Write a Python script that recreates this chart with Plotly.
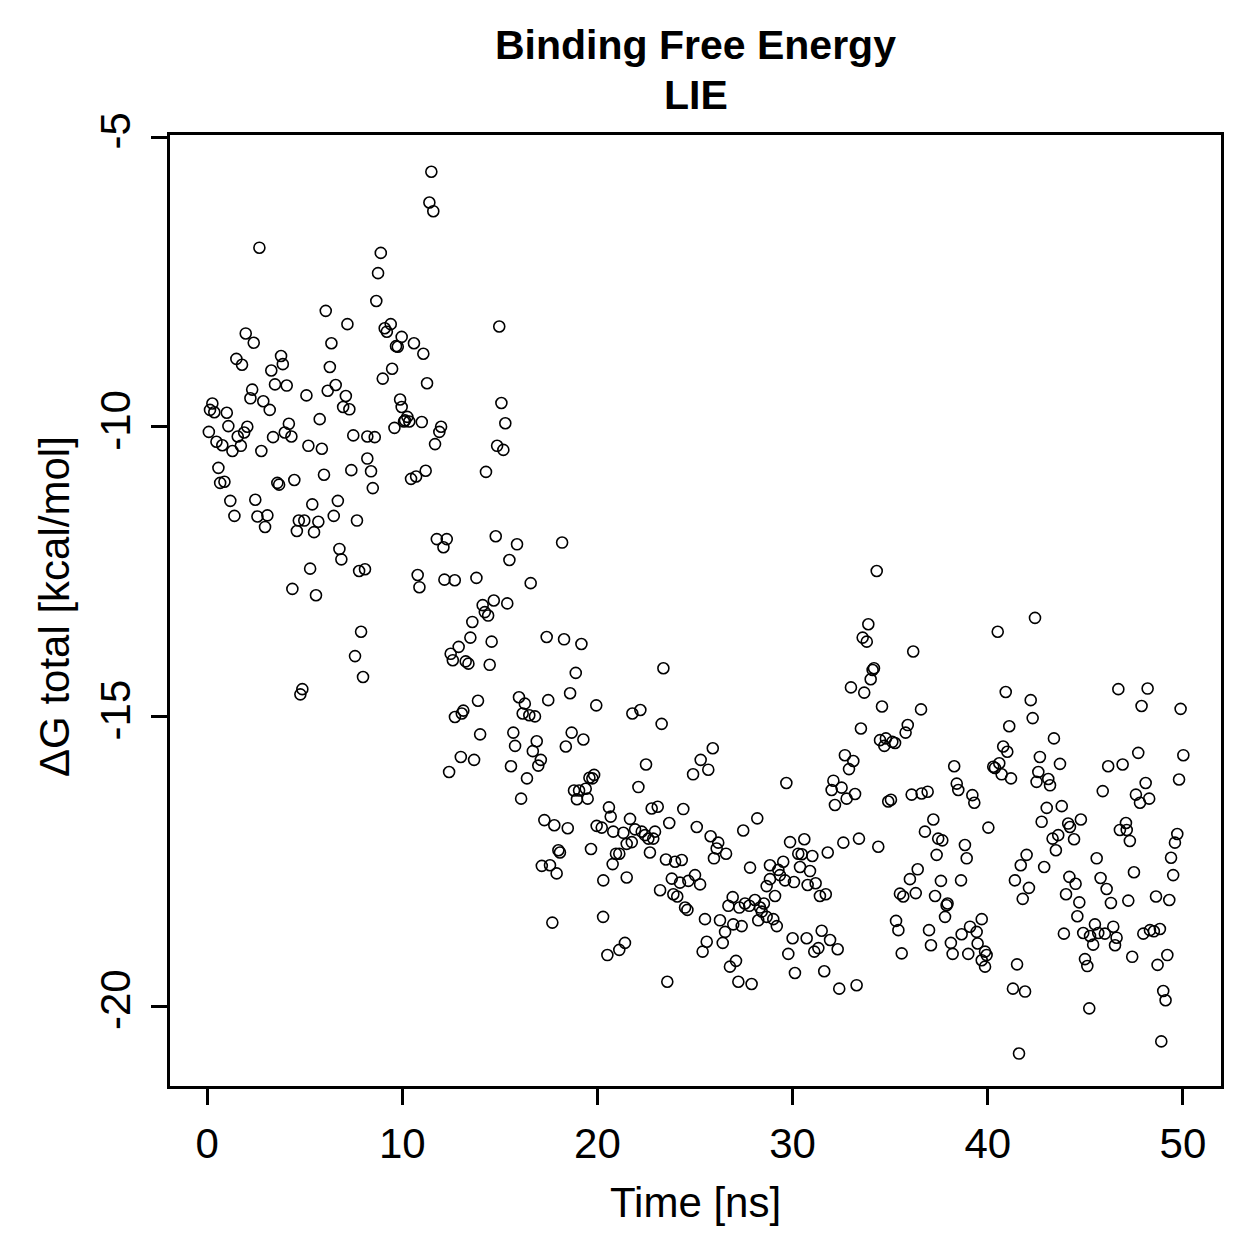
import plotly.graph_objects as go

# ---- data ----
time_ns = [
    # 0-10 ns, upper part
    2.68, 8.90, 8.76, 8.67, 6.08, 7.19, 9.41, 9.10, 9.21, 1.98, 2.39, 6.37, 9.68, 9.77, 9.97, 3.79,
    1.50, 1.79, 3.88, 6.29, 9.48, 3.29, 9.00, 3.48, 4.08, 6.59, 2.31, 6.18, 5.09, 7.11, 2.22, 2.88,
    9.89, 3.21, 6.97, 7.29, 9.97, 0.27, 0.15, 0.37, 1.01, 5.77, 4.19, 1.09, 2.06, 1.90, 1.57, 0.09,
    9.60, 10.09, 3.98, 4.32, 3.38, 7.49, 8.21, 8.59, 0.48, 0.78, 1.73, 1.30, 2.78, 5.19, 5.88, 8.21,
    # 0-10 ns, lower part
    0.58, 0.67, 0.89, 3.60, 3.69, 4.47, 5.99, 7.39, 8.40, 8.49, 1.19, 2.47, 5.39, 6.70, 1.40, 2.58,
    3.09, 2.97, 4.70, 4.98, 5.70, 6.49, 7.68, 4.60, 5.48, 6.78, 6.88, 5.28, 7.79, 8.09, 4.37, 5.58,
    7.89, 7.58, 7.99, 4.88, 4.78,
    # 10-20 ns, upper part
    11.49, 11.39, 11.59, 14.97, 10.60, 11.08, 11.27, 10.26, 10.36, 10.14, 11.00, 11.99, 11.90, 11.68,
    15.08, 15.28, 14.86, 15.18,
    # 10-20 ns, middle
    10.45, 10.71, 11.20, 14.29, 11.77, 12.28, 12.11, 14.79, 15.88, 15.49, 18.19, 10.79, 10.88, 12.16,
    12.69, 13.80, 16.58, 14.12, 14.69, 15.38, 14.23, 14.40, 13.59, 13.49, 14.58, 12.89, 12.48, 12.59,
    13.25, 13.39, 14.48, 17.40, 18.29, 19.18, 18.89, 18.60, 17.48, 15.98, 16.28, 13.88, 13.13, 13.05,
    12.70, 16.17, 16.51, 16.80, 19.94,
    # 10-20 ns, lower part
    13.99, 15.69, 15.78, 16.89, 16.69, 18.68, 19.28, 18.38, 13.00, 13.68, 12.40, 15.57, 17.10, 16.97,
    16.39, 16.09, 19.59, 19.83, 19.74, 18.80, 19.06, 19.40, 18.95, 19.50, 17.28, 17.79, 18.48, 19.96,
    18.00, 18.08, 19.67, 17.15, 17.57, 17.91, 17.69, 20.29,
    # 20-30 ns, upper part
    23.38, 21.79, 22.20, 23.29, 25.91, 25.29, 25.68, 24.90, 22.49, 22.10, 29.68, 20.59, 20.68, 21.67,
    22.78, 23.09, 24.40, 23.68, 28.19,
    # 20-30 ns, lower part
    20.22, 20.81, 21.33, 21.93, 22.27, 22.44, 22.61, 22.95, 22.86, 21.76, 21.50, 25.09, 25.80, 26.19,
    26.11, 26.59, 25.97, 27.47, 29.87, 21.12, 20.95, 22.69, 20.78, 23.51, 23.98, 24.32, 20.30, 21.50,
    23.81, 24.23, 24.66, 25.00, 25.26, 23.21, 23.89, 24.09, 24.49, 24.61, 25.51, 26.28, 26.54, 26.42,
    26.96, 27.39, 26.93, 26.71, 27.27, 27.56, 27.78, 28.07, 28.33, 28.53, 28.42, 28.24, 28.67, 29.01,
    29.19, 27.82, 28.84, 29.27, 29.52, 29.35, 29.61, 30.07, 28.84, 28.67, 29.10, 21.41, 21.12, 20.51,
    25.60, 25.39, 27.10, 26.79, 23.58, 27.22, 27.90, 30.00, 29.78, 30.12,
    # 30-40 ns, upper part
    34.31, 33.88, 33.59, 33.80, 36.18, 34.17, 34.10, 34.00, 32.99, 33.67, 34.58, 36.58, 33.50, 35.90,
    35.79, 34.48, 34.78, 34.70, 35.11, 35.25, 32.68, 33.11, 32.89, 38.28, 32.09, 32.00, 32.51, 33.20,
    32.77, 38.41, 36.92, 36.10, 36.61, 38.49, 39.21,
    # 30-40 ns, lower part
    32.17, 34.90, 35.04, 39.31, 37.21, 36.78, 37.46, 37.67, 38.83, 38.92, 40.03, 30.60, 30.29, 30.47,
    31.01, 31.80, 32.60, 33.40, 34.39, 37.38, 30.38, 30.89, 30.77, 31.18, 31.40, 31.70, 36.41, 36.01,
    37.60, 38.63, 35.50, 35.67, 36.31, 37.30, 37.94, 37.89, 37.81, 35.30, 35.42, 36.99, 37.09, 39.69,
    39.09, 39.43, 38.66, 38.11, 39.48, 39.86, 39.94, 39.00, 38.20, 39.69, 39.86, 35.59, 31.49, 30.72,
    31.92, 32.31, 31.32, 31.11, 31.62, 32.39, 33.28,
    # 40-50 ns, upper part
    42.42, 40.51, 40.92, 42.20, 42.30, 41.10, 43.39, 40.79, 41.00, 40.59, 40.37, 40.28, 40.71, 41.19,
    42.67, 43.70, 42.59, 42.50, 43.10, 43.19, 46.69, 48.19, 47.88, 49.88, 47.71, 50.02, 46.17, 46.91,
    48.09, 49.80, 45.89, 47.59, 47.80, 48.27, 43.02, 43.79, 42.76, 44.12, 44.77, 44.21, 47.08, 46.77,
    47.12,
    # 40-50 ns, lower part
    43.32, 43.61, 43.49, 44.42, 47.28, 49.71, 49.59, 41.99, 41.69, 42.89, 41.39, 42.11, 41.79, 45.58,
    44.18, 44.50, 44.01, 44.69, 44.59, 45.78, 46.09, 46.31, 47.49, 47.20, 49.39, 49.50, 48.62, 49.30,
    43.90, 44.89, 45.24, 45.49, 45.66, 46.00, 45.40, 46.43, 46.60, 46.52, 47.97, 48.31, 48.51, 48.82,
    47.40, 49.20, 48.70, 44.98, 45.10, 41.50, 41.29, 41.91, 45.20, 48.99, 49.11, 48.89, 41.60,
]

dg_total = [
    # 0-10 ns, upper part
    -6.91, -7.00, -7.35, -7.83, -8.00, -8.23, -8.23, -8.30, -8.36, -8.39, -8.55, -8.56, -8.61, -8.62, -8.45, -8.78,
    -8.83, -8.93, -8.92, -8.97, -9.00, -9.03, -9.17, -9.27, -9.29, -9.28, -9.36, -9.38, -9.46, -9.47, -9.51, -9.56,
    -9.53, -9.71, -9.66, -9.70, -9.66, -9.60, -9.71, -9.75, -9.76, -9.87, -9.95, -9.99, -10.00, -10.10, -10.17, -10.09,
    -10.02, -9.91, -10.10, -10.17, -10.18, -10.15, -10.17, -10.18, -10.26, -10.32, -10.33, -10.42, -10.42, -10.33, -10.38, -10.55,
    # 0-10 ns, lower part
    -10.71, -10.97, -10.95, -10.97, -11.00, -10.92, -10.83, -10.75, -10.77, -11.06, -11.28, -11.26, -11.34, -11.28, -11.54, -11.55,
    -11.53, -11.73, -11.62, -11.62, -11.64, -11.54, -11.62, -11.80, -11.82, -12.11, -12.29, -12.45, -12.49, -12.46, -12.80, -12.91,
    -13.54, -13.96, -14.32, -14.53, -14.62,
    # 10-20 ns, upper part
    -5.60, -6.13, -6.28, -8.27, -8.56, -8.74, -9.25, -9.83, -9.91, -9.89, -9.92, -10.00, -10.09, -10.30,
    -9.59, -9.94, -10.33, -10.40,
    # 10-20 ns, middle
    -10.90, -10.86, -10.76, -10.78, -11.94, -11.94, -12.08, -11.89, -12.03, -12.30, -12.00, -12.56, -12.77, -12.64,
    -12.65, -12.61, -12.70, -13.08, -13.00, -13.05, -13.20, -13.26, -13.37, -13.64, -13.71, -13.80, -13.92, -14.03,
    -14.05, -14.09, -14.11, -13.63, -13.67, -13.75, -14.25, -14.60, -14.72, -14.67, -14.78, -14.73, -14.90, -14.95,
    -15.01, -14.95, -14.98, -15.00, -14.81,
    # 10-20 ns, lower part
    -15.31, -15.28, -15.51, -15.43, -15.60, -15.28, -15.40, -15.52, -15.70, -15.75, -15.96, -15.86, -15.75, -15.85,
    -16.07, -16.42, -16.06, -16.01, -16.07, -16.28, -16.28, -16.25, -16.43, -16.42, -16.79, -16.88, -16.93, -16.89,
    -17.31, -17.35, -17.29, -17.58, -17.57, -17.71, -18.56, -18.46,
    # 20-30 ns, upper part
    -14.17, -14.95, -14.89, -15.13, -15.55, -15.75, -15.92, -16.00, -15.83, -16.22, -16.15, -16.57, -16.73, -16.77,
    -16.59, -16.56, -16.60, -16.84, -16.76,
    # 20-30 ns, lower part
    -16.92, -16.99, -17.01, -16.95, -16.99, -17.05, -17.11, -16.99, -17.11, -17.17, -17.20, -16.91, -17.07, -17.18,
    -17.28, -17.37, -17.45, -16.97, -17.17, -17.37, -17.37, -17.35, -17.55, -17.47, -17.51, -17.48, -17.83, -17.78,
    -17.80, -17.87, -17.84, -17.74, -17.90, -18.00, -18.07, -18.11, -18.30, -18.34, -18.50, -18.52, -18.72, -18.91,
    -18.59, -18.62, -18.12, -18.27, -18.30, -18.23, -18.27, -18.17, -18.30, -18.23, -18.37, -18.52, -18.46, -18.50,
    -18.62, -17.61, -17.57, -17.65, -17.51, -17.74, -17.83, -17.86, -17.81, -17.93, -18.10, -18.91, -19.03, -19.12,
    -18.89, -19.06, -19.22, -19.32, -19.58, -19.58, -19.62, -18.83, -19.10, -19.43,
    # 30-40 ns, upper part
    -12.49, -13.41, -13.64, -13.71, -13.88, -14.17, -14.20, -14.36, -14.50, -14.59, -14.83, -14.88, -15.21, -15.15,
    -15.28, -15.41, -15.38, -15.51, -15.44, -15.46, -15.67, -15.77, -15.91, -15.86, -16.11, -16.27, -16.23, -16.34,
    -16.42, -16.16, -16.30, -16.35, -16.33, -16.27, -16.36,
    # 30-40 ns, lower part
    -16.53, -16.47, -16.44, -16.49, -16.78, -16.99, -17.11, -17.14, -17.22, -17.45, -16.92, -17.12, -17.37, -17.38,
    -17.41, -17.35, -17.18, -17.11, -17.25, -17.39, -17.60, -17.67, -17.91, -17.88, -18.10, -18.07, -17.64, -17.81,
    -17.84, -17.83, -18.06, -18.11, -18.05, -18.10, -18.23, -18.26, -18.46, -18.53, -18.69, -18.69, -18.95, -18.50,
    -18.63, -18.72, -18.76, -18.91, -18.92, -19.06, -19.12, -19.10, -19.10, -19.21, -19.32, -19.09, -18.70, -18.83,
    -18.86, -19.02, -19.00, -19.06, -19.40, -19.70, -19.64,
    # 40-50 ns, upper part
    -13.30, -13.54, -14.58, -14.72, -15.03, -15.17, -15.38, -15.52, -15.61, -15.81, -15.89, -15.87, -16.00, -16.07,
    -15.70, -15.82, -15.96, -16.13, -16.08, -16.19, -14.53, -14.52, -14.82, -14.87, -15.63, -15.67, -15.86, -15.83,
    -16.15, -16.09, -16.29, -16.35, -16.49, -16.42, -16.58, -16.55, -16.82, -16.85, -16.78, -16.91, -16.84, -16.96,
    -16.96,
    # 40-50 ns, lower part
    -17.11, -17.05, -17.31, -17.12, -17.15, -17.03, -17.18, -17.39, -17.57, -17.60, -17.83, -17.96, -18.15, -17.45,
    -17.77, -17.89, -18.07, -18.21, -18.45, -17.79, -17.98, -18.22, -17.69, -18.18, -17.44, -17.74, -18.11, -18.17,
    -18.75, -18.74, -18.79, -18.59, -18.74, -18.75, -18.94, -18.63, -18.82, -18.95, -18.75, -18.69, -18.71, -18.67,
    -19.15, -19.12, -19.29, -19.19, -19.31, -19.28, -19.70, -19.75, -20.04, -19.74, -19.90, -20.61, -20.82,
]

assert len(time_ns) == len(dg_total), (len(time_ns), len(dg_total))

x_ticks = [0, 10, 20, 30, 40, 50]
y_ticks = [-20, -15, -10, -5]
y_tick_text = ["-20", "-15", "-10", "-5"]

title_line1 = "Binding Free Energy"
title_line2 = "LIE"
x_title = "Time [ns]"
y_title = "\u0394G total [kcal/mol]"

FONT = "Liberation Sans, Arial, Helvetica, sans-serif"

fig = go.Figure()
fig.add_trace(go.Scatter(
    x=time_ns, y=dg_total, mode="markers",
    marker=dict(symbol="circle-open", size=11, color="black",
                line=dict(width=1.6, color="black")),
    showlegend=False, hoverinfo="x+y",
))

axis_common = dict(
    showgrid=False, zeroline=False, showline=True, linecolor="black",
    linewidth=3, mirror=True, ticks="outside", ticklen=16, tickwidth=2.5,
    tickcolor="black", tickfont=dict(family=FONT, size=42, color="black"),
)

fig.update_layout(
    width=1259, height=1259,
    margin=dict(l=170, r=38, t=135, b=173),
    paper_bgcolor="white", plot_bgcolor="white",
    font=dict(family=FONT, color="black"),
    xaxis=dict(range=[-1.9, 51.95], tickmode="array", tickvals=x_ticks,
               ticklabelstandoff=3, **axis_common),
    yaxis=dict(range=[-21.38, -4.965], tickmode="array", tickvals=y_ticks,
               ticktext=y_tick_text, tickangle=-90, ticklabelstandoff=4,
               **axis_common),
    annotations=[
        dict(text="<b>%s</b>" % title_line1, xref="paper", yref="paper",
             x=0.5, y=1.0946, xanchor="center", yanchor="middle",
             showarrow=False, font=dict(family=FONT, size=41, color="black")),
        dict(text="<b>%s</b>" % title_line2, xref="paper", yref="paper",
             x=0.5, y=1.0421, xanchor="center", yanchor="middle",
             showarrow=False, font=dict(family=FONT, size=41, color="black")),
        dict(text=x_title, xref="paper", yref="paper",
             x=0.5, y=-0.123, xanchor="center", yanchor="middle",
             showarrow=False, font=dict(family=FONT, size=42, color="black")),
        dict(text=y_title, xref="paper", yref="paper",
             x=-0.1094, y=0.5037, xanchor="center", yanchor="middle",
             textangle=-90, showarrow=False,
             font=dict(family=FONT, size=42, color="black")),
    ],
)

fig.write_html("out.html")
